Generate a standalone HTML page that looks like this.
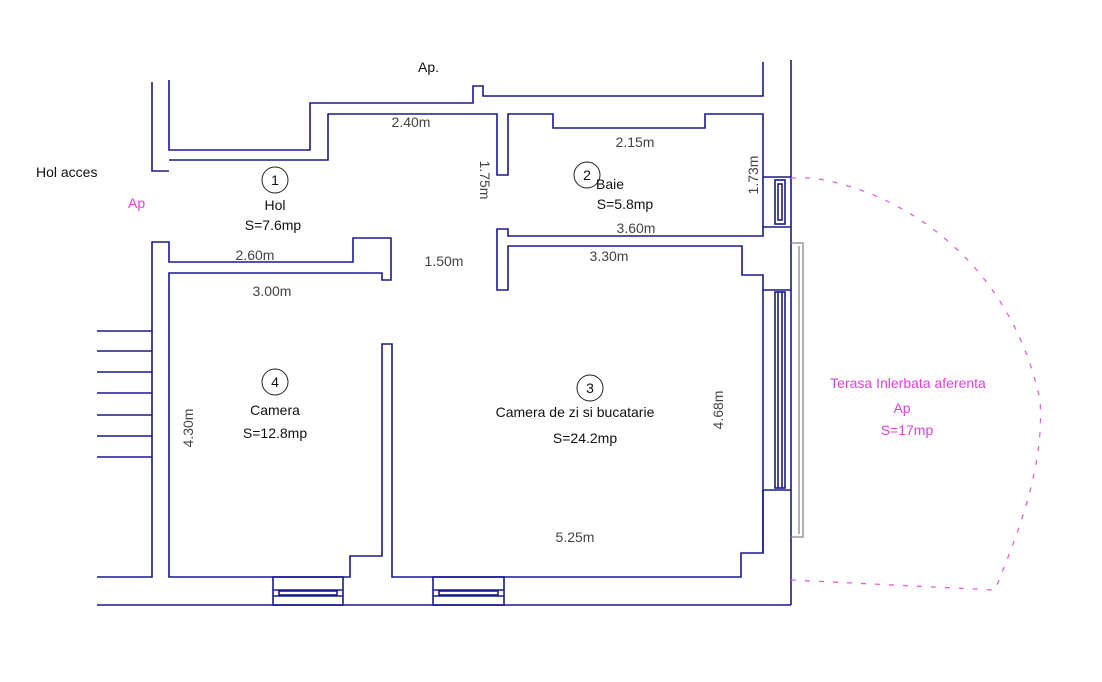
<!DOCTYPE html>
<html><head><meta charset="utf-8"><style>
html,body{margin:0;padding:0;background:#fff;}
svg{display:block;}
text{font-family:"Liberation Sans",sans-serif;}
</style></head><body>
<svg width="1102" height="682" viewBox="0 0 1102 682" xmlns="http://www.w3.org/2000/svg">
<g fill="none" stroke="#1a1a8c" stroke-width="1.6">
<!-- outer top-left wall -->
<polyline points="152,82 152,171 169,171"/>
<polyline points="169,80 169,150 310,150 310,103 473,103 473,86 483,86 483,96 763,96 763,62"/>
<line x1="791" y1="60" x2="791" y2="605"/>
<!-- hol/baie inner top -->
<polyline points="169,160 328,160 328,114 497,114 497,175 508,175 508,114 553,114 553,128 705,128 705,114 763,114 763,236 508,236 508,229 497,229 497,290 508,290 508,246 742,246 742,275 763,275 763,553 741,553 741,577 392,577 392,344 382,344 382,556 350,556 350,577 169,577 169,273 382,273 382,280 391,280 391,238 353,238 353,262 169,262 169,242 152,242 152,577 97,577"/>
<line x1="97" y1="605" x2="791" y2="605"/>
<!-- stairs -->
<line x1="97" y1="331" x2="152" y2="331"/>
<line x1="97" y1="351" x2="152" y2="351"/>
<line x1="97" y1="372" x2="152" y2="372"/>
<line x1="97" y1="393" x2="152" y2="393"/>
<line x1="97" y1="415" x2="152" y2="415"/>
<line x1="97" y1="436" x2="152" y2="436"/>
<line x1="97" y1="457" x2="152" y2="457"/>
<!-- bottom windows -->
<rect x="273" y="577" width="70" height="28"/>
<line x1="273" y1="590" x2="343" y2="590"/><line x1="273" y1="596" x2="343" y2="596"/>
<rect x="279" y="591" width="58" height="4"/>
<rect x="433" y="577" width="71" height="28"/>
<line x1="433" y1="590" x2="504" y2="590"/><line x1="433" y1="596" x2="504" y2="596"/>
<rect x="439" y="591" width="59" height="4"/>
<!-- right windows -->
<line x1="763" y1="177" x2="791" y2="177"/><line x1="763" y1="227" x2="791" y2="227"/>
<rect x="775" y="180" width="10" height="44"/><rect x="778" y="184" width="4" height="36"/>
<line x1="763" y1="290" x2="791" y2="290"/><line x1="763" y1="490" x2="791" y2="490"/>
<rect x="775" y="292" width="10" height="196"/><line x1="778" y1="292" x2="778" y2="488"/><line x1="782" y1="292" x2="782" y2="488"/>
<line x1="763" y1="490" x2="763" y2="553"/>
</g>
<!-- terrace door frame -->
<g fill="none" stroke="#888" stroke-width="1.3">
<polyline points="791,243 803,243 803,537 791,537"/>
<line x1="799" y1="246" x2="799" y2="534"/>
</g>
<!-- magenta terrace outline -->
<g fill="none" stroke="#e060e0" stroke-width="1.3" stroke-dasharray="5,9">
<path d="M791,178 L812,178 C900,190 1010,260 1040,400 C1045,470 1015,540 995,590"/>
<path d="M791,580 L995,590"/>
</g>
<!-- circles -->
<g fill="none" stroke="#222" stroke-width="1">
<circle cx="275" cy="180" r="13"/>
<circle cx="587" cy="175" r="13"/>
<circle cx="590" cy="388" r="13"/>
<circle cx="275" cy="382" r="13"/>
</g>
<g font-size="14" fill="#111" text-anchor="middle">
<text x="275" y="185">1</text>
<text x="587" y="180">2</text>
<text x="590" y="393">3</text>
<text x="275" y="387">4</text>
<text x="275" y="210">Hol</text>
<text x="273" y="230">S=7.6mp</text>
<text x="610" y="189">Baie</text>
<text x="625" y="209">S=5.8mp</text>
<text x="575" y="417">Camera de zi si bucatarie</text>
<text x="585" y="443">S=24.2mp</text>
<text x="275" y="415">Camera</text>
<text x="275" y="438">S=12.8mp</text>
</g>
<g font-size="14" fill="#111">
<text x="418" y="72">Ap.</text>
<text x="36" y="177">Hol acces</text>
</g>
<text x="128" y="208" font-size="14" fill="#e040e0">Ap</text>
<g font-size="14" fill="#e040e0" text-anchor="middle">
<text x="908" y="388">Terasa Inlerbata aferenta</text>
<text x="902" y="413">Ap</text>
<text x="907" y="435">S=17mp</text>
</g>
<g font-size="14" fill="#444" text-anchor="middle">
<text x="411" y="127">2.40m</text>
<text x="635" y="147">2.15m</text>
<text x="636" y="233">3.60m</text>
<text x="255" y="260">2.60m</text>
<text x="272" y="296">3.00m</text>
<text x="444" y="266">1.50m</text>
<text x="609" y="261">3.30m</text>
<text x="575" y="542">5.25m</text>
<text transform="translate(480,180) rotate(90)">1.75m</text>
<text transform="translate(758,175) rotate(-90)">1.73m</text>
<text transform="translate(723,410) rotate(-90)">4.68m</text>
<text transform="translate(193,428) rotate(-90)">4.30m</text>
</g>
</svg>
</body></html>
